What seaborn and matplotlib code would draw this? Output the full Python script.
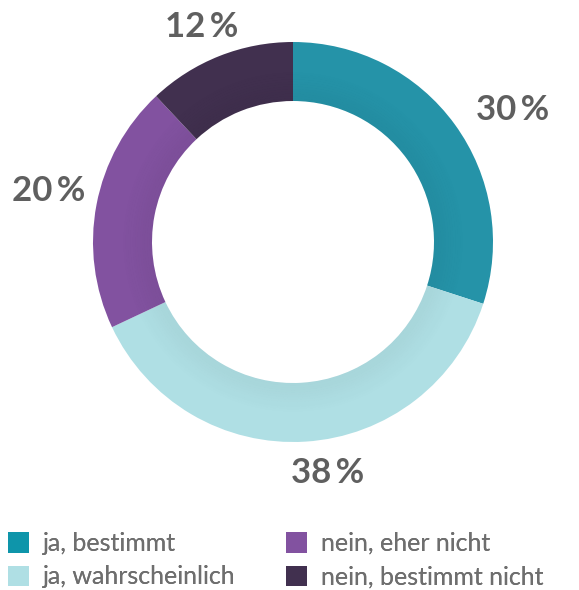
import numpy as np
import matplotlib
matplotlib.use("Agg")
import matplotlib.pyplot as plt
from matplotlib.patches import Patch
import seaborn as sns

# data
answers = ["ja, bestimmt", "ja, wahrscheinlich", "nein, eher nicht", "nein, bestimmt nicht"]
shares = [30, 38, 20, 12]
colors = ["#2593a8", "#afdfe4", "#8252a0", "#41304f"]
legend_colors = ["#0e95aa", "#afdfe4", "#8252a0", "#41304f"]
label_dist = [1.28, 1.17, 1.25, 1.17]
label_shift = [-5, 5, -1, 1.5]  # degrees off the wedge middle

sns.set_theme(style="white")
plt.rcParams["font.family"] = ["Lato", "DejaVu Sans"]

W, H = 579, 590
fig = plt.figure(figsize=(W / 100, H / 100), dpi=100)

# donut: center (293, 242) px, radius 200 px
cx, cy, R = 293, 242, 200
ax = fig.add_axes([(cx - R) / W, (H - cy - R) / H, 2 * R / W, 2 * R / H])
wedges, _ = ax.pie(shares, colors=colors, startangle=90, counterclock=False,
                   radius=1.0, wedgeprops=dict(width=0.295, linewidth=0))

# soft inner shadow on the ring
for i in range(12):
    r = 0.705 + 0.012 * (i + 1)
    ax.pie([1], colors=["black"], radius=r,
           wedgeprops=dict(width=0.012, linewidth=0, alpha=0.04 * (1 - i / 12)))

ax.set_xlim(-1, 1)
ax.set_ylim(-1, 1)
ax.set_aspect("equal")
ax.axis("off")

for w, s, d, sh in zip(wedges, shares, label_dist, label_shift):
    ang = np.deg2rad((w.theta1 + w.theta2) / 2 + sh)
    ax.text(d * np.cos(ang), d * np.sin(ang), f"{s}\u2009%", ha="center", va="center",
            fontsize=25, fontweight="bold", color="#5f5f5f", clip_on=False)

handles = [Patch(facecolor=c, edgecolor="none") for c in legend_colors]
font = dict(family=["Lato", "DejaVu Sans"], size=18)
for col, x0 in enumerate([8, 286]):
    leg = fig.legend(handles[2 * col:2 * col + 2], answers[2 * col:2 * col + 2],
                     loc="upper left", bbox_to_anchor=(x0 / W, 1 - 532 / H),
                     frameon=False, prop=font, labelcolor="#6e6e6e",
                     handlelength=0.85, handleheight=0.88, handletextpad=0.55,
                     labelspacing=0.42, borderpad=0, borderaxespad=0)
    fig.add_artist(leg)

fig.savefig("out.png", dpi=100)
